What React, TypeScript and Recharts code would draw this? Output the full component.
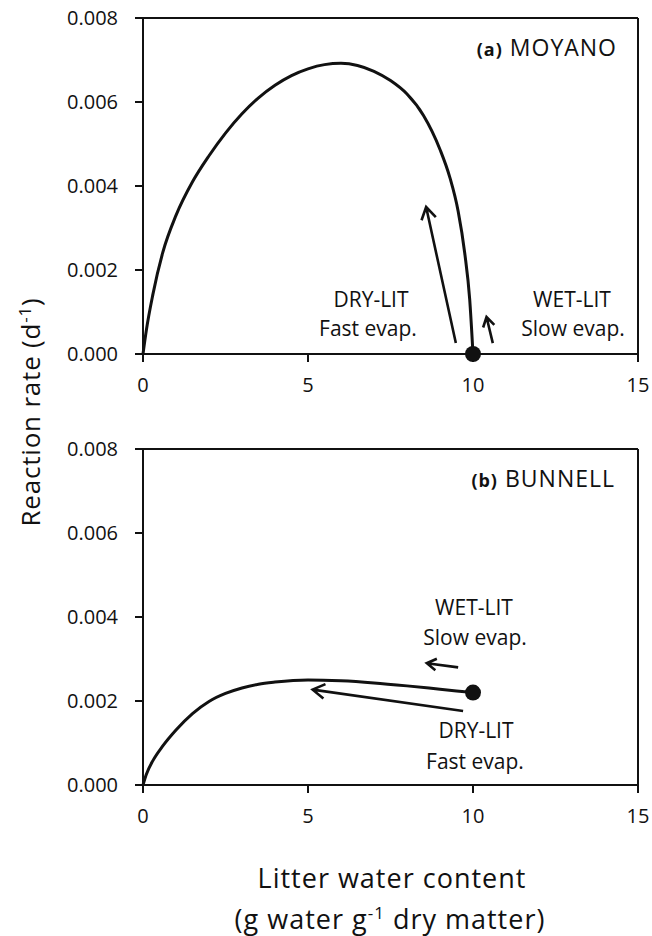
import React from 'react'
import { LineChart, Line, XAxis, YAxis, ReferenceLine, ReferenceDot } from 'recharts'

const xTicks = [0, 5, 10, 15]
const yTicks = [0, 0.002, 0.004, 0.006, 0.008]

// (a) Moyano: rate vs water content
const moyanoX = [0, 0.1, 0.3, 0.6, 1.0, 1.5, 2.0, 2.5, 3.0, 3.5, 4.0, 4.5, 5.0, 5.5, 6.0, 6.5, 7.0, 7.5, 8.0, 8.5, 9.0, 9.3, 9.55, 9.75, 9.9, 10]
const moyanoY = [0, 0.00056, 0.00142, 0.00242, 0.0033, 0.0041, 0.00472, 0.00526, 0.00572, 0.0061, 0.0064, 0.00663, 0.00679, 0.00689, 0.00692, 0.00687, 0.00673, 0.00651, 0.00619, 0.00568, 0.00487, 0.0042, 0.0034, 0.0024, 0.0013, 0]

// (b) Bunnell
const bunnellX = [0, 0.1, 0.3, 0.6, 1.0, 1.5, 2.0, 2.5, 3.0, 3.5, 4.0, 5.0, 6.0, 7.0, 8.0, 9.0, 10]
const bunnellY = [0, 0.00025, 0.00058, 0.00093, 0.00131, 0.0017, 0.00199, 0.00218, 0.00231, 0.0024, 0.00245, 0.0025, 0.00248, 0.00243, 0.00236, 0.00228, 0.0022]

// starting state (filled dot)
const moyanoStart = { x: 10, y: 0 }
const bunnellStart = { x: 10, y: 0.0022 }

// trajectory arrows: tail -> head, with head size in px
const moyanoArrows = [
  { x1: 9.48, y1: 0.00026, x2: 8.58, y2: 0.0035, head: 14 },
  { x1: 10.6, y1: 0.00026, x2: 10.41, y2: 0.00088, head: 11 },
]
const bunnellArrows = [
  { x1: 9.7, y1: 0.00176, x2: 5.14, y2: 0.00227, head: 14 },
  { x1: 9.55, y1: 0.0028, x2: 8.6, y2: 0.0029, head: 11 },
]

const FONT = '"Open Sans", sans-serif'
const INK = '#111'

const toPoints = (xs: number[], ys: number[]) => xs.map((x, i) => ({ x, y: ys[i] }))

function arrowShape(head: number) {
  return (p: any) => {
    const { x1, y1, x2, y2 } = p
    const a = Math.atan2(y2 - y1, x2 - x1)
    const spread = 0.55
    const hx1 = x2 - head * Math.cos(a - spread)
    const hy1 = y2 - head * Math.sin(a - spread)
    const hx2 = x2 - head * Math.cos(a + spread)
    const hy2 = y2 - head * Math.sin(a + spread)
    return (
      <path
        d={`M${x1},${y1}L${x2},${y2}M${hx1},${hy1}L${x2},${y2}L${hx2},${hy2}`}
        fill="none"
        stroke={INK}
        strokeWidth={2.6}
      />
    )
  }
}

function Panel({ curve, arrows, start }: { curve: { x: number; y: number }[]; arrows: typeof moyanoArrows; start: { x: number; y: number } }) {
  const tick = { fill: INK, fontSize: 20, fontFamily: FONT }
  return (
    <LineChart width={652} height={404} margin={{ top: 18, right: 14, bottom: 0, left: 0 }}>
      <XAxis
        dataKey="x"
        type="number"
        domain={[0, 15]}
        ticks={xTicks}
        height={50}
        tickSize={8}
        tickMargin={16}
        tick={tick}
        axisLine={{ stroke: INK, strokeWidth: 2 }}
        tickLine={{ stroke: INK, strokeWidth: 2 }}
      />
      <YAxis
        type="number"
        domain={[0, 0.008]}
        ticks={yTicks}
        width={143}
        tickSize={8}
        tickMargin={17}
        tick={tick}
        tickFormatter={(v: number) => v.toFixed(3)}
        axisLine={{ stroke: INK, strokeWidth: 2 }}
        tickLine={{ stroke: INK, strokeWidth: 2 }}
      />
      <ReferenceLine y={0.008} stroke={INK} strokeWidth={2} />
      <ReferenceLine x={15} stroke={INK} strokeWidth={2} />
      <Line
        data={curve}
        dataKey="y"
        type="monotone"
        stroke={INK}
        strokeWidth={3}
        dot={false}
        isAnimationActive={false}
      />
      {arrows.map((a, i) => (
        <ReferenceLine
          key={i}
          segment={[{ x: a.x1, y: a.y1 }, { x: a.x2, y: a.y2 }]}
          shape={arrowShape(a.head)}
        />
      ))}
      <ReferenceDot x={start.x} y={start.y} r={8} fill={INK} stroke="none" />
    </LineChart>
  )
}

const txt = { fontFamily: FONT, fill: INK }

export default function App() {
  return (
    <div style={{ position: 'absolute', top: 0, left: 0, width: 652, height: 936, background: '#fff' }}>
      <div style={{ position: 'absolute', top: 0, left: 0 }}>
        <Panel curve={toPoints(moyanoX, moyanoY)} arrows={moyanoArrows} start={moyanoStart} />
      </div>
      <div style={{ position: 'absolute', top: 431, left: 0 }}>
        <Panel curve={toPoints(bunnellX, bunnellY)} arrows={bunnellArrows} start={bunnellStart} />
      </div>
      <svg width={652} height={936} style={{ position: 'absolute', top: 0, left: 0, pointerEvents: 'none' }}>
        {/* panel titles */}
        <text x={617} y={56} textAnchor="end" letterSpacing={1} {...txt}>
          <tspan fontSize={18} fontWeight="bold">(a)</tspan>
          <tspan fontSize={23}> MOYANO</tspan>
        </text>
        <text x={615} y={487} textAnchor="end" letterSpacing={1} {...txt}>
          <tspan fontSize={18} fontWeight="bold">(b)</tspan>
          <tspan fontSize={23}> BUNNELL</tspan>
        </text>

        {/* annotations, panel a */}
        <g fontSize={21} textAnchor="middle" {...txt}>
          <text x={371} y={307}>DRY-LIT</text>
          <text x={368} y={336}>Fast evap.</text>
          <text x={572} y={307}>WET-LIT</text>
          <text x={573} y={336}>Slow evap.</text>
          {/* panel b */}
          <text x={474} y={615}>WET-LIT</text>
          <text x={475} y={645}>Slow evap.</text>
          <text x={476} y={738}>DRY-LIT</text>
          <text x={475} y={769}>Fast evap.</text>
        </g>

        {/* axis titles */}
        <text transform="translate(40,412) rotate(-90)" textAnchor="middle" fontSize={26} letterSpacing={0.8} {...txt}>
          Reaction rate (d<tspan dy={-9} fontSize={17}>-1</tspan><tspan dy={9}>)</tspan>
        </text>
        <text x={392} y={888} textAnchor="middle" fontSize={27} letterSpacing={1} {...txt}>Litter water content</text>
        <text x={390} y={929} textAnchor="middle" fontSize={27} letterSpacing={1} {...txt}>
          (g water g<tspan dy={-10} fontSize={17}>-1</tspan><tspan dy={10}> dry matter)</tspan>
        </text>
      </svg>
    </div>
  )
}
